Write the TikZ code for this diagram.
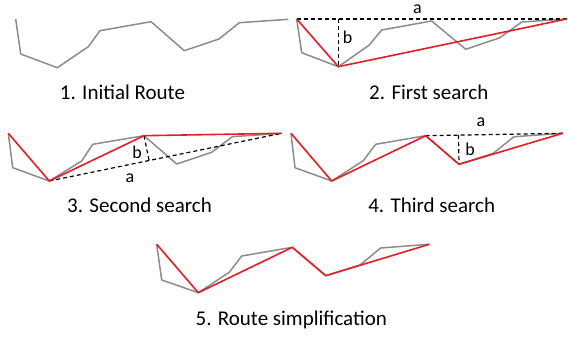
\documentclass[tikz,border=0pt]{standalone}
\usepackage{fontspec}
\setmainfont{Carlito}
\usetikzlibrary{calc}
\definecolor{routegray}{RGB}{140,140,140}
\definecolor{routered}{RGB}{232,28,36}
\tikzset{
  route/.style={draw=routegray,line width=1.5pt,line join=round},
  simp/.style={draw=routered,line width=1.6pt,line join=round},
  guide/.style={draw=black,line width=1.2pt,dash pattern=on 4pt off 3pt},
  caption/.style={anchor=base,font=\fontsize{21}{25}\selectfont,inner sep=0pt},
  lbl/.style={font=\fontsize{18}{21}\selectfont,inner sep=0pt}
}
\begin{document}
\begin{tikzpicture}[x=1pt,y=-1pt]
\useasboundingbox (0,0) rectangle (568,339);
% Panel 1
\foreach \n/\p in {0/{15.7,19},1/{20.7,54},2/{57.3,67.7},3/{88.3,46.7},4/{100,30.7},5/{151,21.7},6/{184.3,50.7},7/{219,39},8/{239.3,22.7},9/{288.3,19.3}}
  \coordinate (a\n) at (\p);
% Panel 2
\foreach \n/\p in {0/{296.7,19},1/{301.7,52.7},2/{338.3,66.7},3/{369.3,45},4/{381.7,30},5/{431.7,21},6/{465.7,49.3},7/{500,37.7},8/{521.7,22},9/{566.7,19}}
  \coordinate (b\n) at (\p);
% Panel 3
\foreach \n/\p in {0/{8.3,133.3},1/{12.7,167.7},2/{49.3,181},3/{81.7,161},4/{92.7,144.3},5/{144,135.7},6/{176.7,164},7/{211.7,152.3},8/{232.3,136.7},9/{281.7,133.3}}
  \coordinate (c\n) at (\p);
% Panel 4
\foreach \n/\p in {0/{291,133.3},1/{295,167.7},2/{331.7,181},3/{363.3,160.7},4/{375.7,144.3},5/{425.7,135.7},6/{459,164.3},7/{493.3,153.3},8/{514,136.7},9/{562.7,133.3}}
  \coordinate (d\n) at (\p);
% Panel 5
\foreach \n/\p in {0/{156.7,244.3},1/{161.7,280},2/{198.3,292.7},3/{229.3,272.3},4/{241.7,256},5/{292.3,247.3},6/{325.7,275.7},7/{360,265},8/{380.7,248},9/{429.3,244.3}}
  \coordinate (e\n) at (\p);

% routes
\foreach \r in {a,b,c,d,e}
  \draw[route] (\r0) -- (\r1) -- (\r2) -- (\r3) -- (\r4) -- (\r5) -- (\r6) -- (\r7) -- (\r8) -- (\r9);

% Panel 2 search
\coordinate (bf) at ($(b0)!(b2)!(b9)$);
\draw[guide] (b0) -- (b9);
\draw[guide] (bf) -- (b2);
\draw[simp] (b0) -- (b2) -- (b9);
\node[lbl] (la2) at (417.5,8.7) {a};
\node[lbl] (lb2) at (347.5,37.5) {b};

% Panel 3 search
\coordinate (cf) at ($(c2)!(c5)!(c9)$);
\draw[guide] (c2) -- (c9);
\draw[guide] (c5) -- (cf);
\draw[simp] (c0) -- (c2) -- (c5) -- (c9);
\node[lbl] (la3) at (130,178) {a};
\node[lbl] (lb3) at (137,152) {b};

% Panel 4 search
\coordinate (df) at ($(d5)!(d6)!(d9)$);
\draw[guide] (d5) -- (d9);
\draw[guide] (df) -- (d6);
\draw[simp] (d0) -- (d2) -- (d5) -- (d6) -- (d9);
\node[lbl] (la4) at (481,122) {a};
\node[lbl] (lb4) at (470,149) {b};

% Panel 5 result
\draw[simp] (e0) -- (e2) -- (e5) -- (e6) -- (e9);

% captions
\node[caption] (t1) at (122.5,100) {1. Initial Route};
\node[caption] (t2) at (428.8,99.3) {2. First search};
\node[caption] (t3) at (139.5,212.7) {3. Second search};
\node[caption] (t4) at (431.7,212.7) {4. Third search};
\node[caption] (t5) at (291.3,326) {5. Route simplification};
\end{tikzpicture}
\end{document}
